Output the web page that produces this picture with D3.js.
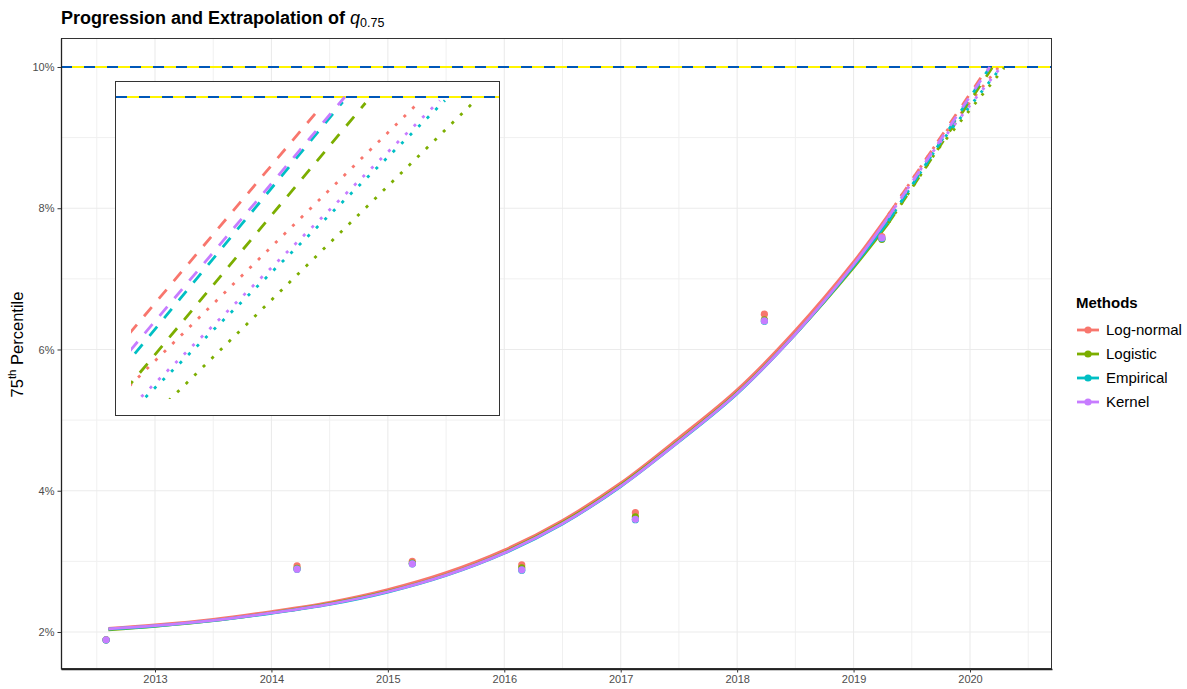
<!DOCTYPE html>
<html><head><meta charset="utf-8">
<script src="https://cdn.jsdelivr.net/npm/d3@7"></script>
<style>body{margin:0;background:#fff} text{font-family:"Liberation Sans",Arial,Helvetica,sans-serif}</style>
</head><body><svg id="c" width="1187" height="689"></svg>
<script>
// ---------------- data ----------------
const methods = ["Log-normal", "Logistic", "Empirical", "Kernel"];
const colors  = ["#F8766D", "#7CAE00", "#00BFC4", "#C77CFF"];

// fitted curves (percent)
const fitYears     = [2012.6, 2013, 2013.5, 2014, 2014.5, 2015, 2015.5, 2016, 2016.5, 2017, 2017.5, 2018, 2018.5, 2019, 2019.3];
const fitLogNormal = [2.05, 2.10, 2.18, 2.29, 2.42, 2.60, 2.84, 3.16, 3.58, 4.11, 4.75, 5.43, 6.27, 7.24, 7.91];
const fitLogistic  = [2.03, 2.08, 2.16, 2.27, 2.40, 2.575, 2.81, 3.13, 3.55, 4.08, 4.71, 5.39, 6.22, 7.16, 7.79];
const fitEmpirical = [2.04, 2.085, 2.16, 2.265, 2.39, 2.565, 2.80, 3.115, 3.53, 4.06, 4.695, 5.375, 6.215, 7.18, 7.82];
const fitKernel    = [2.045, 2.09, 2.165, 2.27, 2.395, 2.57, 2.805, 3.12, 3.535, 4.065, 4.70, 5.38, 6.22, 7.20, 7.877];

// observed quantiles (percent)
const obsYears     = [2012.58, 2014.22, 2015.21, 2016.15, 2017.126, 2018.234, 2019.243];
const obsLogNormal = [1.89, 2.935, 3.00, 2.95, 3.69, 6.50, 7.60];
const obsLogistic  = [1.89, 2.90, 2.975, 2.91, 3.63, 6.42, 7.56];
const obsEmpirical = [1.885, 2.89, 2.965, 2.875, 3.59, 6.40, 7.57];
const obsKernel    = [1.89, 2.89, 2.965, 2.88, 3.595, 6.405, 7.58];

// extrapolation (dashed) end points, one per method
const dashEndYears  = [2020.146, 2020.19, 2020.168, 2020.17];
const dashEndValues = [9.978, 9.988, 9.99, 10.0];
// extrapolation (dotted): branch point and end point, one per method
const dotBranchYears  = [2019.715, 2019.726, 2019.733, 2019.668];
const dotBranchValues = [8.923, 8.84, 8.90, 8.775];
const dotEndYears     = [2020.241, 2020.293, 2020.267, 2020.262];
const dotEndValues    = [9.988, 9.986, 9.993, 9.993];

const targetLevel = 10;
const xTicks = [2013, 2014, 2015, 2016, 2017, 2018, 2019, 2020];
const yTicks = [2, 4, 6, 8, 10];
const xDomain = [2012.1927, 2020.7043];
const yDomain = [1.4761, 10.4106];
const insetXDomain = [2019.963, 2020.30];
const insetYDomain = [9.396, 10.0];

// ---------------- build ----------------
const fits = [fitLogNormal, fitLogistic, fitEmpirical, fitKernel];
const obs  = [obsLogNormal, obsLogistic, obsEmpirical, obsKernel];
const series = methods.map((m, i) => {
  const fit = fitYears.map((y, j) => ({x: y, y: fits[i][j]}));
  const last = fit[fit.length - 1];
  return {
    name: m, color: colors[i], fit,
    obs: obsYears.map((y, j) => ({x: y, y: obs[i][j]})),
    dash: [last, {x: dashEndYears[i], y: dashEndValues[i]}],
    dot: [last, {x: dotBranchYears[i], y: dotBranchValues[i]}, {x: dotEndYears[i], y: dotEndValues[i]}]
  };
});

const svg = d3.select("#c");
const L = 61, R = 1052, T = 38, B = 669;
const x = d3.scaleLinear().domain(xDomain).range([L, R]);
const y = d3.scaleLinear().domain(yDomain).range([B, T]);

svg.append("defs").append("clipPath").attr("id", "panel")
  .append("rect").attr("x", L).attr("y", T).attr("width", R - L).attr("height", B - T);

const grid = svg.append("g");
const minorX = d3.range(Math.ceil(xDomain[0] - 0.5) + 0.5, xDomain[1], 1);
const minorY = d3.range(3, 10, 2);
grid.selectAll(".mx").data(minorX).join("line")
  .attr("x1", d => x(d)).attr("x2", d => x(d)).attr("y1", T).attr("y2", B)
  .attr("stroke", "#f0f0f0").attr("stroke-width", 1);
grid.selectAll(".my").data(minorY).join("line")
  .attr("x1", L).attr("x2", R).attr("y1", d => y(d)).attr("y2", d => y(d))
  .attr("stroke", "#f0f0f0").attr("stroke-width", 1);
grid.selectAll(".Mx").data(xTicks).join("line")
  .attr("x1", d => x(d)).attr("x2", d => x(d)).attr("y1", T).attr("y2", B)
  .attr("stroke", "#ebebeb").attr("stroke-width", 1.1);
grid.selectAll(".My").data(yTicks).join("line")
  .attr("x1", L).attr("x2", R).attr("y1", d => y(d)).attr("y2", d => y(d))
  .attr("stroke", "#ebebeb").attr("stroke-width", 1.1);

// target line
function targetLine(g, x1, x2, yy) {
  g.append("line").attr("x1", x1).attr("x2", x2).attr("y1", yy).attr("y2", yy)
    .attr("stroke", "#FFF500").attr("stroke-width", 2);
  g.append("line").attr("x1", x1).attr("x2", x2).attr("y1", yy).attr("y2", yy)
    .attr("stroke", "#0057B7").attr("stroke-width", 2).attr("stroke-dasharray", "11,12");
}
targetLine(svg.append("g"), L, R, y(targetLevel));

const line = d3.line().x(d => x(d.x)).y(d => y(d.y));
const curve = d3.line().x(d => x(d.x)).y(d => y(d.y)).curve(d3.curveCatmullRom.alpha(0.5));
const plot = svg.append("g").attr("clip-path", "url(#panel)");
const LW = 2.8;
series.forEach(s => {
  plot.append("path").attr("d", curve(s.fit)).attr("fill", "none")
    .attr("stroke", s.color).attr("stroke-width", LW);
});
series.forEach(s => {
  plot.append("path").attr("d", line(s.dash)).attr("fill", "none")
    .attr("stroke", s.color).attr("stroke-width", LW).attr("stroke-dasharray", "11,11");
  plot.append("path").attr("d", line(s.dot)).attr("fill", "none")
    .attr("stroke", s.color).attr("stroke-width", LW).attr("stroke-dasharray", "2.8,8.5");
});
series.forEach(s => {
  plot.selectAll(null).data(s.obs).join("circle")
    .attr("cx", d => x(d.x)).attr("cy", d => y(d.y)).attr("r", 3.6).attr("fill", s.color);
});

// panel border
svg.append("rect").attr("x", L + 0.5).attr("y", T + 0.5).attr("width", R - L - 1).attr("height", B - T - 1)
  .attr("fill", "none").attr("stroke", "#333").attr("stroke-width", 1);

// axes
const xAxis = svg.append("g").attr("transform", `translate(0,${B})`)
  .call(d3.axisBottom(x).tickValues(xTicks).tickFormat(d3.format("d")).tickSizeInner(3.5).tickSizeOuter(0).tickPadding(3));
const yAxis = svg.append("g").attr("transform", `translate(${L},0)`)
  .call(d3.axisLeft(y).tickValues(yTicks).tickFormat(d => d + "%").tickSizeInner(3.5).tickSizeOuter(0).tickPadding(3));
[xAxis, yAxis].forEach(a => {
  a.select(".domain").attr("stroke", "#222").attr("stroke-width", 1.3);
  a.selectAll(".tick line").attr("stroke", "#333");
  a.selectAll(".tick text").attr("fill", "#4d4d4d").attr("font-size", 11)
    .attr("font-family", '"Liberation Sans",Arial,sans-serif');
});

// inset
const IL = 115, IR = 500, IT = 81, IB = 416;
const ix = d3.scaleLinear().domain(insetXDomain).range([131, 479]);
const iy = d3.scaleLinear().domain(insetYDomain).range([399, 97]);
const inset = svg.append("g");
inset.append("rect").attr("x", IL + 0.5).attr("y", IT + 0.5).attr("width", IR - IL - 1).attr("height", IB - IT - 1)
  .attr("fill", "#fff").attr("stroke", "none");
svg.select("defs").append("clipPath").attr("id", "insetclip")
  .append("rect").attr("x", ix(insetXDomain[0])).attr("y", IT + 1)
  .attr("width", IR - 1 - ix(insetXDomain[0])).attr("height", iy(insetYDomain[0]) - IT - 1);
targetLine(inset, IL + 1, IR - 1, iy(targetLevel));
const iline = d3.line().x(d => ix(d.x)).y(d => iy(d.y));
const ig = inset.append("g").attr("clip-path", "url(#insetclip)");
series.forEach(s => {
  ig.append("path").attr("d", iline(s.dash)).attr("fill", "none")
    .attr("stroke", s.color).attr("stroke-width", LW).attr("stroke-dasharray", "12,11");
});
series.forEach(s => {
  ig.append("path").attr("d", iline(s.dot)).attr("fill", "none")
    .attr("stroke", s.color).attr("stroke-width", LW).attr("stroke-dasharray", "3,9");
});
inset.append("rect").attr("x", IL + 0.5).attr("y", IT + 0.5).attr("width", IR - IL - 1).attr("height", IB - IT - 1)
  .attr("fill", "none").attr("stroke", "#333").attr("stroke-width", 1);

// title
const title = svg.append("text").attr("x", 61).attr("y", 24).attr("font-size", 18).attr("fill", "#000");
title.append("tspan").attr("font-weight", "bold").text("Progression and Extrapolation of ");
title.append("tspan").attr("font-style", "italic").text("q");
title.append("tspan").attr("font-size", 12.5).attr("dy", 3).text("0.75");

// y axis title
const yt = svg.append("text").attr("transform", `translate(23,${(T + B) / 2 - 9}) rotate(-90)`)
  .attr("text-anchor", "middle").attr("font-size", 16.5).attr("fill", "#000");
yt.append("tspan").text("75");
yt.append("tspan").attr("font-size", 11.5).attr("dy", -7).text("th");
yt.append("tspan").attr("dy", 7).text(" Percentile");

// legend
const lg = svg.append("g");
lg.append("text").attr("x", 1076).attr("y", 308).attr("font-size", 15).attr("font-weight", "bold").text("Methods");
series.forEach((s, i) => {
  const cy = 330 + i * 24;
  lg.append("line").attr("x1", 1077).attr("x2", 1099).attr("y1", cy).attr("y2", cy)
    .attr("stroke", s.color).attr("stroke-width", LW);
  lg.append("circle").attr("cx", 1088).attr("cy", cy).attr("r", 3.6).attr("fill", s.color);
  lg.append("text").attr("x", 1106).attr("y", cy + 5).attr("font-size", 15).text(s.name);
});
</script></body></html>
